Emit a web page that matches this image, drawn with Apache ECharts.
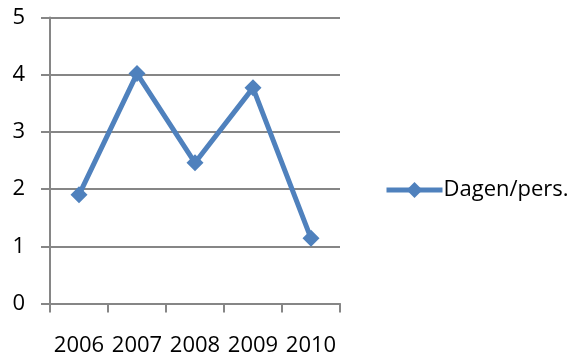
<!DOCTYPE html>
<html>
<head>
<meta charset="utf-8">
<script src="https://cdn.jsdelivr.net/npm/echarts@6/dist/echarts.min.js"></script>
<style>
html,body{margin:0;padding:0;background:#fff;}
#c{width:573px;height:358px;}
</style>
</head>
<body>
<div id="c"></div>
<script>
const categories = ['2006', '2007', '2008', '2009', '2010'];
const seriesName = 'Dagen/pers.';
const values = [1.9, 4.02, 2.46, 3.77, 1.14];
const yTicks = [0, 1, 2, 3, 4, 5];

const chart = echarts.init(document.getElementById('c'), null, {renderer: 'canvas'});
const gray = '#868686';
const blue = '#4F81BD';
const font = '"Open Sans", "Liberation Sans", sans-serif';
chart.setOption({
  animation: false,
  backgroundColor: '#ffffff',
  grid: {left: 50, right: 233, top: 17.5, bottom: 54.5, containLabel: false},
  legend: {
    data: [seriesName],
    left: 379, top: 174,
    itemWidth: 56, itemHeight: 20, itemGap: 0,
    itemStyle: {color: blue},
    lineStyle: {color: blue, width: 5},
    textStyle: {fontFamily: font, fontSize: 22, color: '#000', padding: [0,0,0,-4]}
  },
  xAxis: {
    type: 'category',
    data: categories,
    boundaryGap: true,
    axisLine: {lineStyle: {color: gray, width: 2}},
    axisTick: {show: true, length: 9, lineStyle: {color: gray, width: 2}, alignWithLabel: false},
    axisLabel: {interval: 0, margin: 31, fontFamily: font, fontSize: 22, color: '#000'},
    splitLine: {show: false}
  },
  yAxis: {
    type: 'value',
    min: yTicks[0], max: yTicks[yTicks.length - 1], interval: 1,
    axisLine: {show: true, lineStyle: {color: gray, width: 2}},
    axisTick: {show: true, length: 9, lineStyle: {color: gray, width: 2}},
    axisLabel: {margin: 25, fontFamily: font, fontSize: 22, color: '#000'},
    splitLine: {show: true, lineStyle: {color: gray, width: 2}}
  },
  series: [{
    name: seriesName,
    type: 'line',
    data: values,
    symbol: 'diamond',
    symbolSize: 17,
    lineStyle: {color: blue, width: 5},
    itemStyle: {color: blue},
    z: 5
  }]
});
</script>
</body>
</html>
